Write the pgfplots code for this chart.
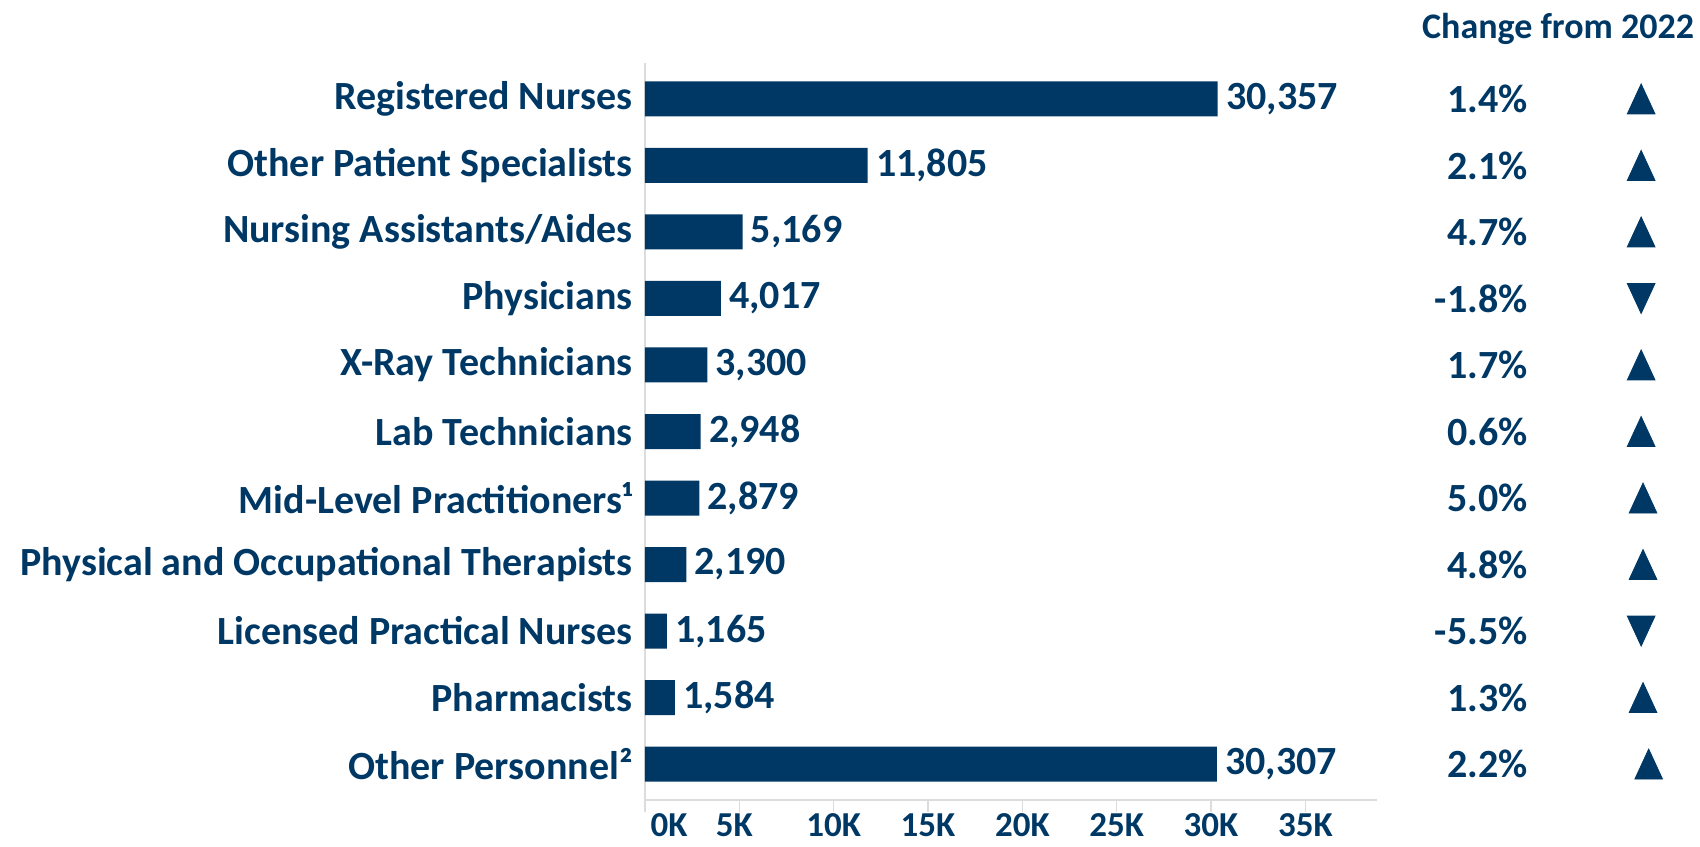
\documentclass[border=0pt]{standalone}
\usepackage{fontspec}
\setmainfont{Carlito}
\usepackage{pgfplots}
\pgfplotsset{compat=1.18}
\definecolor{navy}{HTML}{003865}
\definecolor{axgray}{HTML}{DCDCDC}
\newcommand{\lbl}{\bfseries\fontsize{20}{23}\selectfont}

\begin{document}
\begin{tikzpicture}
% page frame: 1700 x 846 px at 0.5pt/px, plot area corner at (645,800) px
\useasboundingbox (-322.5pt,-23pt) rectangle (527.5pt,400pt);
\begin{axis}[
  at={(0,0)}, anchor=south west,
  width=366pt, height=368.5pt, scale only axis,
  xmin=0, xmax=38800,
  ymin=-0.54, ymax=10.54, y dir=reverse,
  ytick={0,...,10},
  yticklabels={Registered Nurses,Other Patient Specialists,Nursing Assistants/Aides,Physicians,X-Ray Technicians,Lab Technicians,Mid-Level Practitioners¹,Physical and Occupational Therapists,Licensed Practical Nurses,Pharmacists,Other Personnel²},
  xtick={0,5000,...,35000},
  xticklabels={\hspace*{24pt}0K,5K\hspace*{5pt},10K,15K,20K,25K,30K,35K},
  scaled x ticks=false,
  /pgf/number format/assume math mode=true,
  yticklabel style={font=\lbl, text=navy, inner xsep=0pt},
  xticklabel style={font=\bfseries\fontsize{17.5}{20}\selectfont, text=navy, inner ysep=0pt, yshift=-0.7pt},
  axis x line*=bottom, axis y line*=left,
  axis line style={axgray, line width=0.8pt},
  x axis line style={-}, y axis line style={-},
  xtick style={axgray, line width=0.8pt}, ytick style={draw=none},
  tick align=outside, major tick length=6pt,
  clip=false,
]
% bars
\addplot[xbar, bar width=17.5pt, fill=navy, draw=none,
  nodes near coords, point meta=explicit symbolic,
  nodes near coords style={font=\lbl, text=navy, anchor=west, inner xsep=4pt}]
  coordinates {
  (30357,0) [30,357]
  (11805,1) [11,805]
  (5169,2) [5,169]
  (4017,3) [4,017]
  (3300,4) [3,300]
  (2948,5) [2,948]
  (2879,6) [2,879]
  (2190,7) [2,190]
  (1165,8) [1,165]
  (1584,9) [1,584]
  (30307,10) [30,307]
  };
% change from 2022
\addplot[draw=none, mark=none,
  nodes near coords, point meta=explicit symbolic,
  nodes near coords style={font=\lbl, text=navy, anchor=east, inner sep=0pt}]
  coordinates {
  (46800,0) [1.4\%]
  (46800,1) [2.1\%]
  (46800,2) [4.7\%]
  (46800,3) [-1.8\%]
  (46800,4) [1.7\%]
  (46800,5) [0.6\%]
  (46800,6) [5.0\%]
  (46800,7) [4.8\%]
  (46800,8) [-5.5\%]
  (46800,9) [1.3\%]
  (46800,10) [2.2\%]
  };
% up arrows
\addplot[only marks, mark=triangle*, mark size=8pt, color=navy,
  mark options={yshift=-2.5pt, yscale=1.25}]
  coordinates {(52800,0) (52800,1) (52800,2) (52800,4) (52800,5) (52900,6) (52900,7) (52900,9) (53200,10)};
% down arrows
\addplot[only marks, mark=triangle*, mark size=8pt, color=navy,
  mark options={yshift=2.5pt, rotate=180, yscale=1.25}]
  coordinates {(52800,3) (52800,8)};
\node[font=\bfseries\fontsize{18}{21}\selectfont, text=navy] at (axis cs:48400,-1.05) {Change from 2022};
\end{axis}
\end{tikzpicture}
\end{document}
